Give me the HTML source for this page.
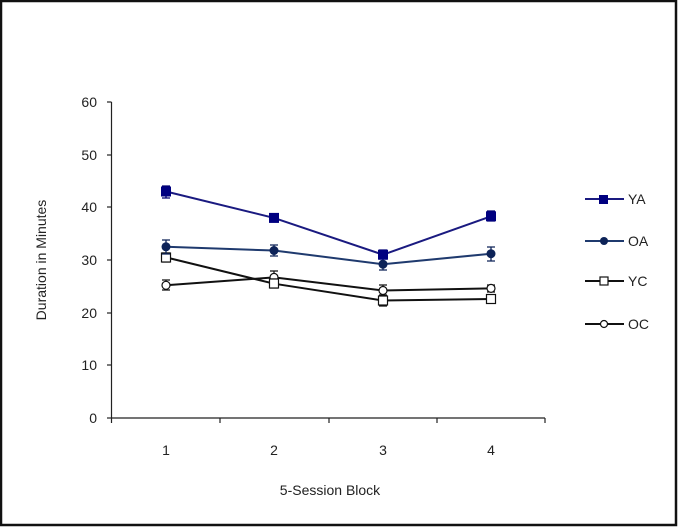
<!DOCTYPE html>
<html><head><meta charset="utf-8"><style>
html,body{margin:0;padding:0;background:#fff}
svg{display:block}
text{font-family:"Liberation Sans",Arial,sans-serif;font-size:14px;fill:#222}
</style></head><body>
<svg width="679" height="529" viewBox="0 0 679 529" xmlns="http://www.w3.org/2000/svg">
<rect x="1" y="1" width="675" height="524" fill="#fff" stroke="#111" stroke-width="2.5"/>
<!-- axes -->
<g stroke="#222" stroke-width="1.2" fill="none">
<line x1="111.5" y1="102" x2="111.5" y2="418"/>
<line x1="111.5" y1="418" x2="545" y2="418"/>
<line x1="107" y1="102" x2="111.5" y2="102"/>
<line x1="107" y1="155" x2="111.5" y2="155"/>
<line x1="107" y1="207" x2="111.5" y2="207"/>
<line x1="107" y1="260" x2="111.5" y2="260"/>
<line x1="107" y1="313" x2="111.5" y2="313"/>
<line x1="107" y1="365" x2="111.5" y2="365"/>
<line x1="107" y1="418" x2="111.5" y2="418"/>
<line x1="111.5" y1="418" x2="111.5" y2="423"/>
<line x1="220" y1="418" x2="220" y2="423"/>
<line x1="329" y1="418" x2="329" y2="423"/>
<line x1="437" y1="418" x2="437" y2="423"/>
<line x1="545" y1="418" x2="545" y2="423"/>
</g>
<g text-anchor="end">
<text x="97" y="107">60</text><text x="97" y="160">50</text><text x="97" y="212">40</text>
<text x="97" y="265">30</text><text x="97" y="318">20</text><text x="97" y="370">10</text><text x="97" y="423">0</text>
</g>
<g text-anchor="middle">
<text x="166" y="455">1</text><text x="274" y="455">2</text><text x="383" y="455">3</text><text x="491" y="455">4</text>
<text x="330" y="495">5-Session Block</text>
<text transform="translate(46,260) rotate(-90)">Duration in Minutes</text>
</g>
<!-- OC -->
<g stroke="#111" stroke-width="2" fill="none">
<polyline points="166,285.3 274,277.4 383,290.5 491,288.4"/>
<polyline points="166,257.4 274,283.7 383,300.5 491,299"/>
</g>
<g stroke="#111" stroke-width="1.2" fill="#fff">
<path d="M166,280v10M162,280h8M162,290h8M274,271v13M270,271h8M270,284h8M383,285v11M379,285h8M379,296h8M491,285v7M487,285h8M487,292h8" fill="none"/>
<circle cx="166" cy="285.3" r="4"/><circle cx="274" cy="277.4" r="4"/><circle cx="383" cy="290.5" r="4"/><circle cx="491" cy="288.4" r="4"/>
<path d="M166,253v9M162,253h8M162,262h8M274,279v9M270,279h8M270,288h8M383,295v11M379,295h8M379,306h8M491,295v8M487,295h8M487,303h8" fill="none"/>
<rect x="161.5" y="253" width="9" height="9"/><rect x="269.5" y="279" width="9" height="9"/><rect x="378.5" y="296" width="9" height="9"/><rect x="486.5" y="294.5" width="9" height="9"/>
</g>
<!-- OA -->
<polyline points="166,246.8 274,250.5 383,264.2 491,253.7" stroke="#1f3a6e" stroke-width="2" fill="none"/>
<g stroke="#0d2358" stroke-width="1.3" fill="none">
<path d="M166,240v14M162,240h8M162,254h8M274,245v11M270,245h8M270,256h8M383,258v12M379,258h8M379,270h8M491,247v14M487,247h8M487,261h8"/>
</g>
<g fill="#0d2358"><circle cx="166" cy="246.8" r="4.5"/><circle cx="274" cy="250.5" r="4.5"/><circle cx="383" cy="264.2" r="4.5"/><circle cx="491" cy="253.7" r="4.5"/></g>
<!-- YA -->
<polyline points="166,191.5 274,217.9 383,254.7 491,216.3" stroke="#1a1a80" stroke-width="2" fill="none"/>
<g stroke="#000070" stroke-width="1.3" fill="none">
<path d="M166,186v12M162,186h8M162,198h8M274,214v8M270,214h8M270,222h8M383,250v9M379,250h8M379,259h8M491,211v10M487,211h8M487,221h8"/>
</g>
<g fill="#000080"><rect x="161" y="186.5" width="10" height="10"/><rect x="269" y="212.9" width="10" height="10"/><rect x="378" y="249.7" width="10" height="10"/><rect x="486" y="211.3" width="10" height="10"/></g>
<!-- legend -->
<line x1="585" y1="199" x2="624" y2="199" stroke="#1a1a80" stroke-width="2"/>
<rect x="599" y="195" width="9" height="9" fill="#000080"/>
<text x="628" y="204">YA</text>
<line x1="585" y1="241" x2="624" y2="241" stroke="#1f3a6e" stroke-width="2"/>
<circle cx="604" cy="241" r="4" fill="#0d2358"/>
<text x="628" y="246">OA</text>
<line x1="585" y1="281" x2="624" y2="281" stroke="#111" stroke-width="2"/>
<rect x="600" y="277" width="8" height="8" fill="#fff" stroke="#111" stroke-width="1.2"/>
<text x="628" y="286">YC</text>
<line x1="585" y1="324" x2="624" y2="324" stroke="#111" stroke-width="2"/>
<circle cx="604" cy="324" r="3.5" fill="#fff" stroke="#111" stroke-width="1.2"/>
<text x="628" y="329">OC</text>
</svg>
</body></html>
